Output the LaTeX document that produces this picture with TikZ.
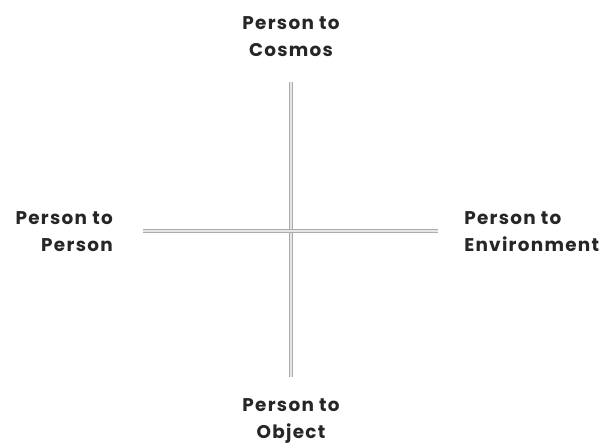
\documentclass[tikz,border=0pt]{standalone}
\usepackage{fontspec}
\setmainfont{Poppins}[LetterSpace=7]
\usetikzlibrary{positioning}

\begin{document}
\begin{tikzpicture}[x=0.75pt,y=-0.75pt]
\tikzset{
  axislabel/.style={font=\bfseries\fontsize{13.8}{20.25}\selectfont,text=black!85,inner sep=0pt},
  axisline/.style={draw=gray!65,line width=0.9pt,double=gray!20,double distance=1.6pt}
}
\useasboundingbox (0,0) rectangle (603,445);
\coordinate (c_top) at (291,82);
\coordinate (c_bottom) at (291,377);
\coordinate (c_left) at (143,231);
\coordinate (c_right) at (438,231);
\node[axislabel,align=center,anchor=center] (n_cosmos) at (291,37) {Person to\\Cosmos};
\node[axislabel,align=center,anchor=center] (n_object) at (291,421) {Person to\\Object};
\node[axislabel,align=right,anchor=east] (n_person) at (113,232) {Person to\\Person};
\node[axislabel,align=left,anchor=west] (n_environment) at (464,232) {Person to\\Environment};
\draw[axisline] (c_top) -- (c_bottom);
\draw[axisline] (c_left) -- (c_right);
\end{tikzpicture}
\end{document}
